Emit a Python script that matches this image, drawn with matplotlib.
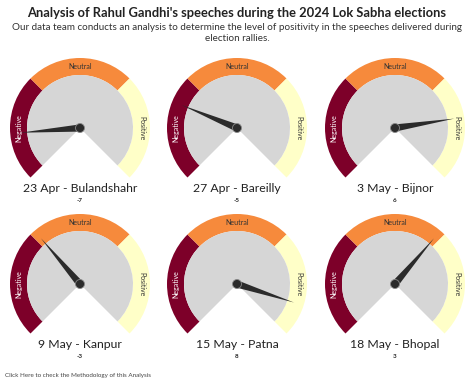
import numpy as np
import matplotlib.pyplot as plt
from matplotlib.patches import Wedge, Polygon, Circle

plt.rcParams['font.family'] = ['Lato', 'DejaVu Sans']

# data
labels = ['23 Apr - Bulandshahr', '27 Apr - Bareilly', '3 May - Bijnor',
          '9 May - Kanpur', '15 May - Patna', '18 May - Bhopal']
scores = [-7, -5, 6, -3, 8, 3]
vmin, vmax = -10, 10
band_names = ['Negative', 'Neutral', 'Positive']
band_colors = ['#7d0029', '#f68a3c', '#ffffc8']

W, H = 474, 385
fig = plt.figure(figsize=(W / 100, H / 100), dpi=100)
ax = fig.add_axes([0, 0, 1, 1])
ax.set_xlim(0, W)
ax.set_ylim(0, H)
ax.set_aspect('equal')
ax.axis('off')

R_OUT, R_IN = 70, 53
START, SWEEP = 225, 270


def val_to_angle(v):
    return START - (v - vmin) / (vmax - vmin) * SWEEP


def draw_gauge(cx, cy, value, label):
    # colored bands
    n = len(band_names)
    for i, (name, col) in enumerate(zip(band_names, band_colors)):
        a1 = START - i * SWEEP / n
        a2 = START - (i + 1) * SWEEP / n
        ax.add_patch(Wedge((cx, cy), R_OUT, a2, a1, width=R_OUT - R_IN,
                           facecolor=col, edgecolor='none'))
        mid = np.radians((a1 + a2) / 2)
        rm = (R_OUT + R_IN) / 2
        rot = np.degrees(mid) - 90
        tcol = 'white' if i == 0 else '#333333'
        ax.text(cx + rm * np.cos(mid), cy + rm * np.sin(mid), name,
                rotation=rot, ha='center', va='center', fontsize=5,
                color=tcol)
    # grey face
    ax.add_patch(Wedge((cx, cy), R_IN, START - SWEEP, START,
                       facecolor='#d6d6d6', edgecolor='none'))
    # needle
    a = np.radians(val_to_angle(value))
    L, w = 60, 3.6
    tip = (cx + L * np.cos(a), cy + L * np.sin(a))
    p1 = (cx - w * np.sin(a), cy + w * np.cos(a))
    p2 = (cx + w * np.sin(a), cy - w * np.cos(a))
    ax.add_patch(Polygon([p1, tip, p2], closed=True, facecolor='#2b2b2b',
                         edgecolor='none'))
    ax.add_patch(Circle((cx, cy), 4.5, facecolor='#2b2b2b',
                        edgecolor='#888888', linewidth=0.6))
    ax.text(cx, cy - 60, label, ha='center', va='center', fontsize=8.8,
            color='#222222')
    ax.text(cx, cy - 72, str(value), ha='center', va='center', fontsize=4.5,
            color='#222222', fontweight='bold')


centers_x = [80, 237, 395]
centers_y = [H - 128, H - 284]
for k, (lab, val) in enumerate(zip(labels, scores)):
    draw_gauge(centers_x[k % 3], centers_y[k // 3], val, lab)

ax.text(W / 2, H - 13, "Analysis of Rahul Gandhi's speeches during the 2024 Lok Sabha elections",
        ha='center', va='center', fontsize=9.3, fontweight='bold', color='#222222')
ax.text(W / 2, H - 33,
        'Our data team conducts an analysis to determine the level of positivity in the speeches delivered during\nelection rallies.',
        ha='center', va='center', fontsize=7.1, color='#333333', linespacing=1.25)
ax.text(5, H - 376, 'Click Here to check the Methodology of this Analysis',
        ha='left', va='center', fontsize=4.5, color='#444444')

fig.savefig('out.png', dpi=100)
